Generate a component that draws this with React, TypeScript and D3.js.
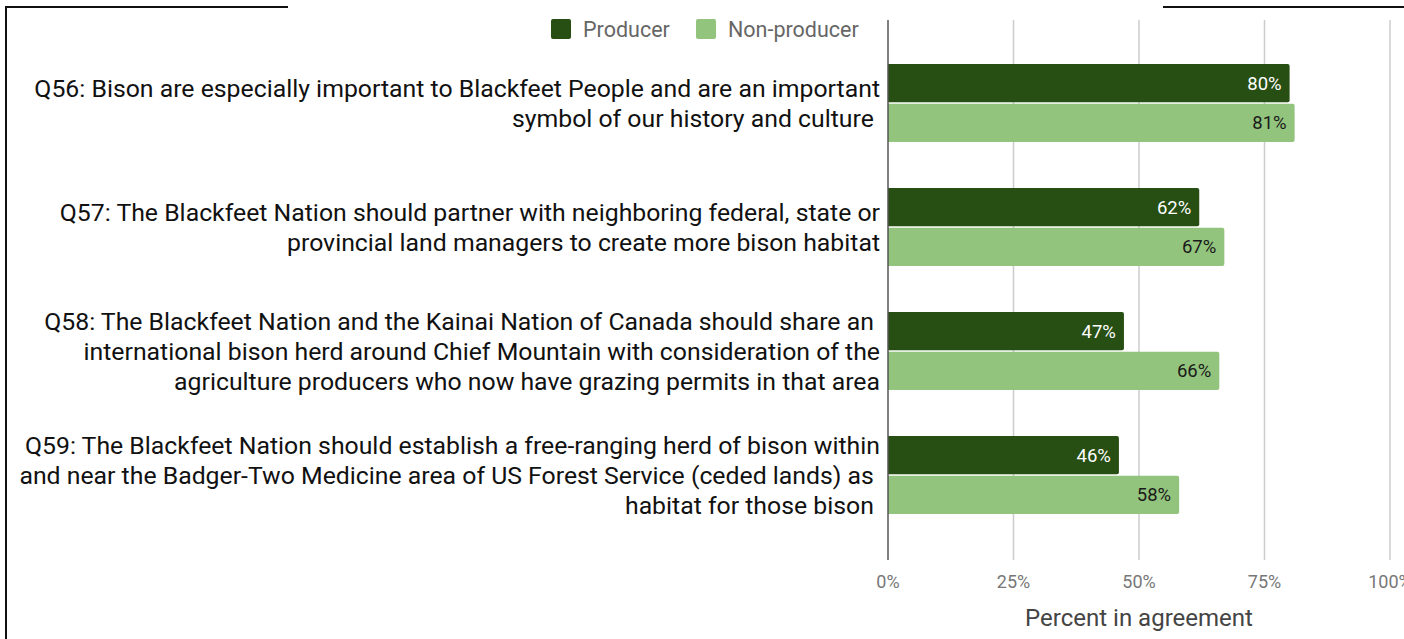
import { useEffect, useRef } from "react";
import * as d3 from "d3";

// questions, each wrapped the way the original shows them
const questions = ["Q56", "Q57", "Q58", "Q59"];
const questionLines = [
  ["Q56: Bison are especially important to Blackfeet People and are an important", "symbol of our history and culture "],
  ["Q57: The Blackfeet Nation should partner with neighboring federal, state or", "provincial land managers to create more bison habitat"],
  [
    "Q58: The Blackfeet Nation and the Kainai Nation of Canada should share an ",
    "international bison herd around Chief Mountain with consideration of the",
    "agriculture producers who now have grazing permits in that area",
  ],
  [
    "Q59: The Blackfeet Nation should establish a free-ranging herd of bison within",
    "and near the Badger-Two Medicine area of US Forest Service (ceded lands) as ",
    "habitat for those bison ",
  ],
];
const seriesNames = ["Producer", "Non-producer"];
const producer = [80, 62, 47, 46];
const nonProducer = [81, 67, 66, 58];
const xTicks = [0, 25, 50, 75, 100];

const colors = ["#274e13", "#93c47d"];
const labelColors = ["#ffffff", "#1a1a1a"];

export default function App() {
  const svgRef = useRef<SVGSVGElement>(null);

  useEffect(() => {
    if (!svgRef.current) return;
    const svg = d3.select(svgRef.current);
    svg.selectAll("*").remove();

    const width = 1404;
    const height = 639;
    const font = "Roboto, 'Noto Sans', sans-serif";

    const x = d3.scaleLinear().domain([0, 100]).range([888, 1390]);
    const y0 = d3.scaleBand().domain(questions).range([41, 537]);
    const y1 = d3
      .scaleBand()
      .domain(seriesNames)
      .range([23, y0.bandwidth() - 23])
      .paddingInner(0.04);

    // frame (title sits in the gap, cut off above the view)
    svg
      .append("path")
      .attr("d", `M288,7 H6 V${height + 2} M1163,7 H${width + 2}`)
      .attr("fill", "none")
      .attr("stroke", "#111")
      .attr("stroke-width", 2);

    // gridlines
    svg
      .append("g")
      .selectAll("line")
      .data(xTicks.slice(1))
      .enter()
      .append("line")
      .attr("x1", (d) => x(d))
      .attr("x2", (d) => x(d))
      .attr("y1", 20)
      .attr("y2", 560)
      .attr("stroke", "#cccccc")
      .attr("stroke-width", 1.5);

    // bars
    const values = [producer, nonProducer];
    const rows = questions.flatMap((q, i) =>
      seriesNames.map((s, j) => ({ q, s, j, v: values[j][i] }))
    );

    const g = svg.append("g");
    g.selectAll("path.bar")
      .data(rows)
      .enter()
      .append("path")
      .attr("class", "bar")
      .attr("fill", (d) => colors[d.j])
      .attr("d", (d) => {
        const x0 = x(0);
        const x1 = x(d.v);
        const top = y0(d.q)! + y1(d.s)!;
        const h = y1.bandwidth();
        const r = 2;
        return `M${x0},${top} H${x1 - r} Q${x1},${top} ${x1},${top + r} V${top + h - r} Q${x1},${top + h} ${x1 - r},${top + h} H${x0} Z`;
      });

    g.selectAll("text.val")
      .data(rows)
      .enter()
      .append("text")
      .attr("class", "val")
      .attr("x", (d) => x(d.v) - 8)
      .attr("y", (d) => y0(d.q)! + y1(d.s)! + y1.bandwidth() / 2)
      .attr("dy", "0.35em")
      .attr("text-anchor", "end")
      .attr("font-family", font)
      .attr("font-size", 18.5)
      .attr("fill", (d) => labelColors[d.j])
      .text((d) => `${d.v}%`);

    // baseline axis
    svg
      .append("line")
      .attr("x1", x(0))
      .attr("x2", x(0))
      .attr("y1", 20)
      .attr("y2", 560)
      .attr("stroke", "#555")
      .attr("stroke-width", 1.5);

    // category labels
    const lineH = 30;
    const cat = svg.append("g");
    questions.forEach((q, i) => {
      const lines = questionLines[i];
      const cy = y0(q)! + y0.bandwidth() / 2;
      const t = cat
        .append("text")
        .attr("text-anchor", "end")
        .attr("font-family", font)
        .attr("font-size", 24.8)
        .attr("fill", "#111")
        .style("white-space", "pre");
      lines.forEach((line, k) => {
        t.append("tspan")
          .attr("x", 880)
          .attr("y", cy + (k - (lines.length - 1) / 2) * lineH)
          .attr("dy", "0.35em")
          .text(line);
      });
    });

    // x tick labels
    svg
      .append("g")
      .selectAll("text")
      .data(xTicks)
      .enter()
      .append("text")
      .attr("x", (d) => x(d))
      .attr("y", 582)
      .attr("dy", "0.35em")
      .attr("text-anchor", "middle")
      .attr("font-family", font)
      .attr("font-size", 18)
      .attr("fill", "#777")
      .text((d) => `${d}%`);

    svg
      .append("text")
      .attr("x", x(50))
      .attr("y", 618)
      .attr("dy", "0.35em")
      .attr("text-anchor", "middle")
      .attr("font-family", font)
      .attr("font-size", 24)
      .attr("fill", "#444")
      .text("Percent in agreement");

    // legend
    const legendX = [551, 696];
    const legend = svg
      .append("g")
      .selectAll("g")
      .data(seriesNames)
      .enter()
      .append("g")
      .attr("transform", (_, i) => `translate(${legendX[i]},19)`);
    legend
      .append("rect")
      .attr("width", 20)
      .attr("height", 20)
      .attr("rx", 2)
      .attr("fill", (_, i) => colors[i]);
    legend
      .append("text")
      .attr("x", 32)
      .attr("y", 10)
      .attr("dy", "0.35em")
      .attr("font-family", font)
      .attr("font-size", 21.5)
      .attr("fill", "#666")
      .text((d) => d);
  }, []);

  return (
    <svg
      ref={svgRef}
      width={1404}
      height={639}
      style={{ position: "absolute", left: 0, top: 0, background: "#fff", display: "block" }}
    />
  );
}
